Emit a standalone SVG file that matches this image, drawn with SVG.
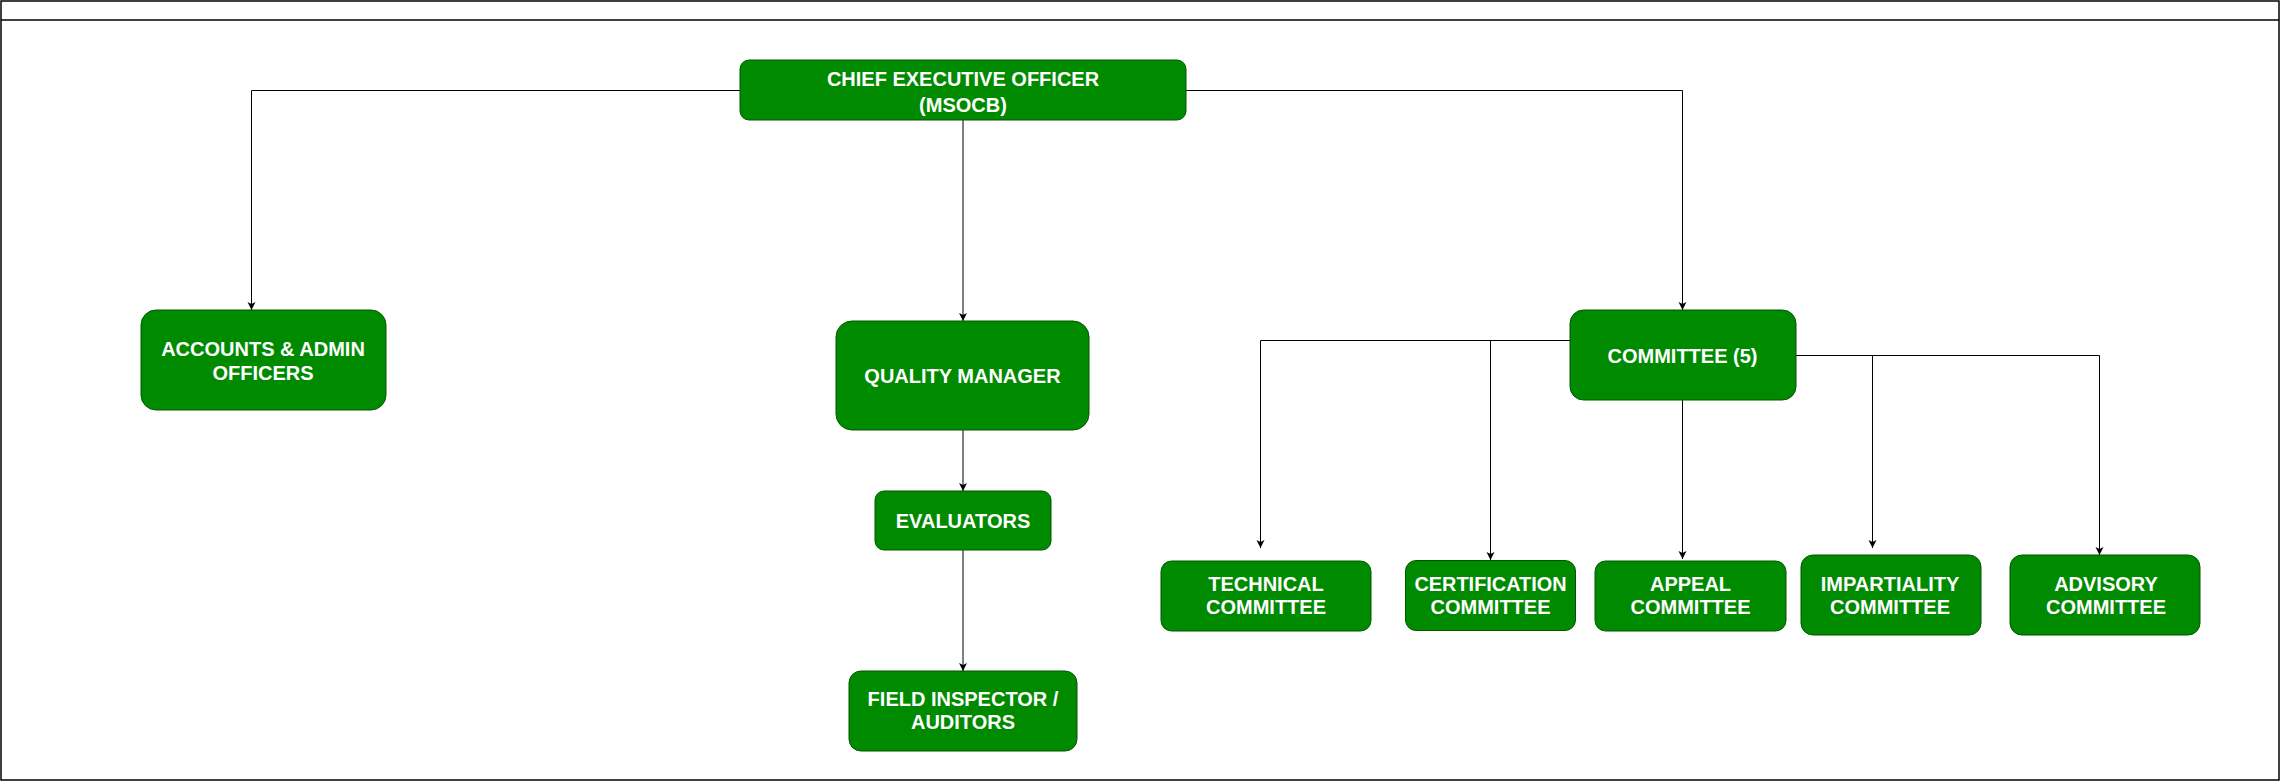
<svg xmlns="http://www.w3.org/2000/svg" width="2281" height="782" viewBox="0 0 2281 782">
<style>
.frame{fill:#fff;stroke:#000;stroke-width:1.5}
.box{fill:#008a00;stroke:#005700;stroke-width:1}
.t{font-family:"Liberation Sans",Arial,sans-serif;font-weight:bold;font-size:20px;fill:#fff;text-anchor:middle}
.c{fill:none;stroke:#000;stroke-width:1}
</style>
<defs>
<marker id="arr" markerUnits="userSpaceOnUse" markerWidth="10" markerHeight="9" refX="8" refY="4" orient="auto">
<path d="M0,0 L8,4 L0,8 L2,4 z" fill="#000"/>
</marker>
</defs>
<rect class="frame" x="1" y="1" width="2278" height="779"/>
<line x1="1" y1="20" x2="2279" y2="20" stroke="#000" stroke-width="1.5"/>
<g id="connectors">
<path class="c" d="M740 90.5 H251.5 V310" marker-end="url(#arr)"/>
<path class="c" d="M963 120 V321" marker-end="url(#arr)"/>
<path class="c" d="M1186 90.5 H1682.5 V310" marker-end="url(#arr)"/>
<path class="c" d="M963 430 V491" marker-end="url(#arr)"/>
<path class="c" d="M963 550 V671" marker-end="url(#arr)"/>
<path class="c" d="M1570 340.5 H1260.5 V548" marker-end="url(#arr)"/>
<path class="c" d="M1570 340.5 H1490.5 V560" marker-end="url(#arr)"/>
<path class="c" d="M1682.5 400 V559" marker-end="url(#arr)"/>
<path class="c" d="M1796 355.5 H1872.5 V548" marker-end="url(#arr)"/>
<path class="c" d="M1796 355.5 H2099.5 V555" marker-end="url(#arr)"/>
</g>
<g id="ceo">
<rect class="box" x="740" y="60" width="446" height="60" rx="9"/>
<text class="t" x="963" y="86">CHIEF EXECUTIVE OFFICER</text>
<text class="t" x="963" y="112">(MSOCB)</text>
</g>
<g id="accounts">
<rect class="box" x="141" y="310" width="245" height="100" rx="15"/>
<text class="t" x="263" y="356">ACCOUNTS &amp; ADMIN</text>
<text class="t" x="263" y="379.5">OFFICERS</text>
</g>
<g id="quality-manager">
<rect class="box" x="836" y="321" width="253" height="109" rx="16"/>
<text class="t" x="962.5" y="383">QUALITY MANAGER</text>
</g>
<g id="evaluators">
<rect class="box" x="875" y="491" width="176" height="59" rx="9"/>
<text class="t" x="963" y="528">EVALUATORS</text>
</g>
<g id="field-inspector">
<rect class="box" x="849" y="671" width="228" height="80" rx="12"/>
<text class="t" x="963" y="706">FIELD INSPECTOR /</text>
<text class="t" x="963" y="729">AUDITORS</text>
</g>
<g id="committee">
<rect class="box" x="1570" y="310" width="226" height="90" rx="13.5"/>
<text class="t" x="1682.5" y="363">COMMITTEE (5)</text>
</g>
<g id="technical">
<rect class="box" x="1161" y="561" width="210" height="70" rx="10.5"/>
<text class="t" x="1266" y="591">TECHNICAL</text>
<text class="t" x="1266" y="614">COMMITTEE</text>
</g>
<g id="certification">
<rect class="box" x="1405.5" y="560.5" width="170" height="70" rx="10.5"/>
<text class="t" x="1490.5" y="591" textLength="152" lengthAdjust="spacingAndGlyphs">CERTIFICATION</text>
<text class="t" x="1490.5" y="614">COMMITTEE</text>
</g>
<g id="appeal">
<rect class="box" x="1595" y="561" width="191" height="70" rx="10.5"/>
<text class="t" x="1690.5" y="591">APPEAL</text>
<text class="t" x="1690.5" y="614">COMMITTEE</text>
</g>
<g id="impartiality">
<rect class="box" x="1801" y="555" width="180" height="80" rx="12"/>
<text class="t" x="1890" y="591">IMPARTIALITY</text>
<text class="t" x="1890" y="614">COMMITTEE</text>
</g>
<g id="advisory">
<rect class="box" x="2010" y="555" width="190" height="80" rx="12"/>
<text class="t" x="2106" y="591">ADVISORY</text>
<text class="t" x="2106" y="614">COMMITTEE</text>
</g>
</svg>
